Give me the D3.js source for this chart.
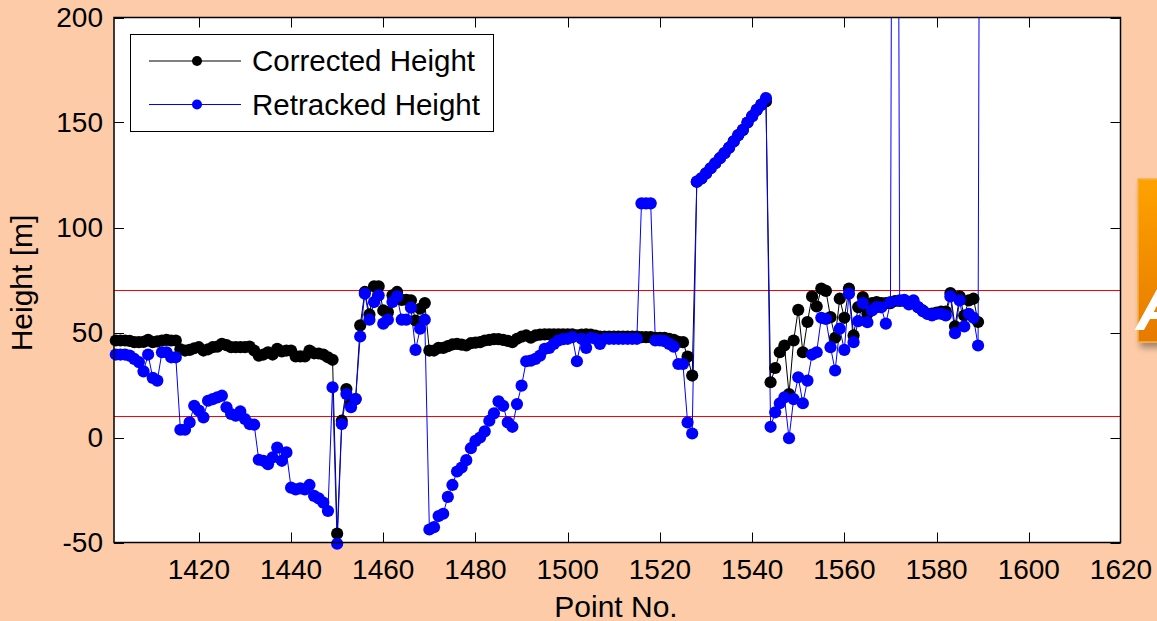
<!DOCTYPE html>
<html>
<head>
<meta charset="utf-8">
<script src="https://cdn.jsdelivr.net/npm/d3@7"></script>
<style>
  html, body { margin: 0; padding: 0; background: #fdcba7; }
  svg { display: block; font-family: "Liberation Sans", Arial, sans-serif; }
</style>
</head>
<body>
<svg id="chart" width="1157" height="621"></svg>
<script>
const firstPoint = 1402;

// Corrected Height, points 1402..1589
const correctedHeight = [
  46.2, 46.2, 46.2, 46, 45.4, 45.4, 45.5, 46.5, 45.4, 45.8,
  46.2, 46.5, 46.2, 46.2, 42, 41.4, 41.7, 42.5, 43, 41.4,
  42, 43, 43.3, 44.6, 44, 43, 43, 43, 43, 43.3,
  41.4, 39, 39.5, 40.6, 39.5, 42.2, 41, 41.4, 41.4, 38.6,
  38.6, 38.6, 41.4, 40.1, 40, 39.5, 38.2, 37, -45.8, 8,
  23.1, 16, 18.3, 53.4, 69.3, 58.6, 72, 72, 60.5, 59.7,
  67.7, 69.3, 65.5, 65.6, 65.3, 55.7, 61.3, 64, 41.4, 41.4,
  42.7, 42.7, 43.5, 44.3, 44.6, 44.2, 43.8, 44.9, 45.2, 45.4,
  46.2, 46.5, 46.8, 46.8, 46.5, 46, 45.4, 47, 48, 48.6,
  47.5, 48.6, 49, 49.1, 49.1, 49.1, 49.1, 49.1, 49.1, 49.1,
  48.6, 49, 49.1, 49, 48.5, 48, 48, 48, 48, 48,
  48, 48, 48, 48, 47.8, 47.8, 47.8, 47.5, 47.5, 47.5,
  47, 46.5, 45.5, 45.4, 38.5, 29.5, 121.8, 123.4, 125.8, 128.2,
  130.6, 133, 135.4, 138, 141, 144, 146.5, 150, 153, 156,
  158.5, 160, 26.3, 33.1, 40.6, 43.8, 20.7, 46.2, 60.8, 40.6,
  55, 67.2, 62.4, 70.9, 69.8, 57.3, 47.5, 66.1, 57, 70.9,
  48.6, 62.1, 66.9, 58.9, 64, 64.5, 64, 64, 64, 65,
  65, 65, 64, 64, 62, 60.5, 59, 59, 59.5, 60,
  60, 68.8, 52.9, 67.2, 58.1, 65.3, 66.1, 55
];

// Retracked Height, points 1402..1590
const retrackedHeight = [
  39.5, 39.5, 39.5, 39, 37.4, 35.9, 31.5, 39.5, 28.4, 27.1,
  40.6, 40.6, 38.2, 38.2, 3.7, 3.7, 7.2, 15.1, 12.8, 9.6,
  17.5, 18.3, 19.1, 19.9, 14.4, 11.2, 10.4, 12.4, 8.8, 6.4,
  6.1, -10.6, -11.1, -12.7, -9.5, -4.8, -11.1, -7.1, -23.9, -24.7,
  -24.2, -24.7, -22.6, -27.8, -29, -31, -35, 23.9, -50.6, 6.4,
  20.7, 14.4, 18.3, 48.1, 68.5, 56.1, 64.5, 67.7, 54.2, 56.1,
  64.5, 67.2, 56.1, 56.1, 61.8, 41.7, 51.8, 56.1, -43.8, -42.7,
  -37.4, -36.3, -28.3, -22.6, -16.2, -14.3, -10.8, -5.1, -1.6, 0,
  2.9, 8, 11.5, 17.2, 15.1, 7.2, 5.1, 15.9, 24.7, 36.3,
  36.6, 37.4, 39, 42.2, 42.7, 44.6, 46.2, 46.8, 47, 47.8,
  36.3, 47, 42.7, 47.5, 47, 44.6, 47, 47, 47, 47,
  47, 47, 47, 47, 111.5, 111.5, 111.5, 46.2, 46.2, 45.9,
  44.6, 43.3, 35, 35, 7.2, 1.9, 121.8, 123.4, 125.8, 128.2,
  130.6, 133, 135.4, 138, 141, 144, 146.5, 150, 153, 156,
  158.5, 161.6, 5.1, 12, 16.3, 19.1, -0.3, 18.3, 28.7, 16.3,
  27.1, 39.5, 40.6, 57, 56.5, 43, 31.9, 51.8, 41.7, 68.5,
  45.4, 55.4, 64, 54.9, 60.5, 62.1, 62, 54.2, 64.5, 800,
  65.3, 65.6, 63.4, 65.3, 62.1, 60.2, 58.9, 58.1, 58.9, 58.9,
  58.1, 67.2, 49.7, 65.3, 52.9, 58.9, 57, 43.8, 800
];

const thresholds = [70, 10];
const xTicks = [1420, 1440, 1460, 1480, 1500, 1520, 1540, 1560, 1580, 1600, 1620];
const yTicks = [-50, 0, 50, 100, 150, 200];

const series = [
  { name: 'Corrected Height', color: '#000000', values: correctedHeight },
  { name: 'Retracked Height', color: '#0000ff', values: retrackedHeight }
];

const svg = d3.select('#chart');
const plotLeft = 114, plotRight = 1120.5, plotTop = 17.5, plotBottom = 542.5;

const x = d3.scaleLinear().domain([1401.6, 1620]).range([plotLeft, 1121]);
const y = d3.scaleLinear().domain([-50, 200]).range([plotBottom, plotTop]);

svg.append('rect').attr('width', 1157).attr('height', 621).attr('fill', '#fdcba7');

// orange slide box peeking in at the right
const defs = svg.append('defs');
const grad = defs.append('linearGradient').attr('id', 'orange').attr('x1', 0).attr('y1', 0).attr('x2', 0).attr('y2', 1);
grad.append('stop').attr('offset', '0%').attr('stop-color', '#ffa200');
grad.append('stop').attr('offset', '100%').attr('stop-color', '#e67a00');
defs.append('filter').attr('id', 'shadow').attr('x', '-20%').attr('y', '-20%').attr('width', '160%').attr('height', '160%')
  .append('feDropShadow').attr('dx', 3).attr('dy', 5).attr('stdDeviation', 3).attr('flood-opacity', 0.35);
defs.append('clipPath').attr('id', 'plot-clip')
  .append('rect').attr('x', plotLeft).attr('y', plotTop).attr('width', plotRight - plotLeft).attr('height', plotBottom - plotTop);

svg.append('rect')
  .attr('x', 1138).attr('y', 179).attr('width', 40).attr('height', 163)
  .attr('fill', 'url(#orange)').attr('stroke', '#f5b04a').attr('stroke-width', 1.5)
  .attr('filter', 'url(#shadow)');
svg.append('text')
  .attr('x', 1136).attr('y', 330)
  .attr('fill', '#ffffff').style('font-size', '64px').style('font-weight', 'bold').style('font-style', 'italic')
  .text('A');

svg.append('rect')
  .attr('x', plotLeft).attr('y', plotTop).attr('width', plotRight - plotLeft).attr('height', plotBottom - plotTop)
  .attr('fill', '#ffffff');

const plot = svg.append('g').attr('clip-path', 'url(#plot-clip)');

plot.selectAll('line.threshold')
  .data(thresholds)
  .enter()
  .append('line')
  .classed('threshold', true)
  .attr('x1', plotLeft).attr('x2', plotRight)
  .attr('y1', d => y(d)).attr('y2', d => y(d))
  .attr('stroke', '#ff0000').attr('stroke-width', 1.2);

const line = d3.line()
  .x((d, i) => x(firstPoint + i))
  .y(d => y(d));

series.forEach(s => {
  plot.append('path')
    .datum(s.values)
    .attr('fill', 'none')
    .attr('stroke', s.color)
    .attr('stroke-width', 1)
    .attr('d', line);

  svg.append('g')
    .selectAll('circle')
    .data(s.values.map((v, i) => ({ n: firstPoint + i, v })).filter(d => d.v >= -52 && d.v <= 200))
    .enter()
    .append('circle')
    .attr('cx', d => x(d.n))
    .attr('cy', d => y(d.v))
    .attr('r', 6.1)
    .attr('fill', s.color);
});

// axes box with inward ticks on all four sides
const tickLen = 10;
const axes = svg.append('g').attr('stroke', '#000').attr('stroke-width', 1);

axes.selectAll('g.xt')
  .data(xTicks.filter(t => t < 1620))
  .enter()
  .append('g')
  .classed('xt', true)
  .each(function (t) {
    const g = d3.select(this);
    const px = Math.round(x(t)) + 0.5;
    g.append('line').attr('x1', px).attr('x2', px).attr('y1', plotBottom).attr('y2', plotBottom - tickLen);
    g.append('line').attr('x1', px).attr('x2', px).attr('y1', plotTop).attr('y2', plotTop + tickLen);
  });

axes.selectAll('g.yt')
  .data(yTicks)
  .enter()
  .append('g')
  .classed('yt', true)
  .each(function (t) {
    const g = d3.select(this);
    const py = Math.round(y(t)) + 0.5;
    g.append('line').attr('x1', plotLeft).attr('x2', plotLeft + tickLen).attr('y1', py).attr('y2', py);
    g.append('line').attr('x1', plotRight).attr('x2', plotRight - tickLen).attr('y1', py).attr('y2', py);
  });

axes.append('rect')
  .attr('x', plotLeft).attr('y', plotTop).attr('width', plotRight - plotLeft).attr('height', plotBottom - plotTop)
  .attr('fill', 'none').attr('stroke-width', 1.5);

svg.append('g')
  .selectAll('text')
  .data(xTicks)
  .enter()
  .append('text')
  .attr('x', d => x(d))
  .attr('y', 578.5)
  .attr('text-anchor', 'middle')
  .style('font-size', '28px')
  .text(d => d);

svg.append('g')
  .selectAll('text')
  .data(yTicks)
  .enter()
  .append('text')
  .attr('x', 103)
  .attr('y', d => y(d))
  .attr('dy', '0.35em')
  .attr('text-anchor', 'end')
  .style('font-size', '28px')
  .text(d => d);

svg.append('text')
  .attr('x', 616).attr('y', 616.5)
  .attr('text-anchor', 'middle')
  .style('font-size', '30px')
  .text('Point No.');

svg.append('text')
  .attr('transform', 'translate(31.5 283) rotate(-90)')
  .attr('text-anchor', 'middle')
  .style('font-size', '30px')
  .text('Height [m]');

// legend
const legend = svg.append('g');
legend.append('rect')
  .attr('x', 130.5).attr('y', 34.5).attr('width', 363).attr('height', 97)
  .attr('fill', '#ffffff').attr('stroke', '#000').attr('stroke-width', 1);

const entry = legend.selectAll('g.entry')
  .data(series)
  .enter()
  .append('g')
  .classed('entry', true)
  .attr('transform', (d, i) => `translate(0 ${61 + i * 43.5})`);

entry.append('line')
  .attr('x1', 149).attr('x2', 241)
  .attr('stroke', d => d.color).attr('stroke-width', 1);
entry.append('circle')
  .attr('cx', 197).attr('r', 5)
  .attr('fill', d => d.color);
entry.append('text')
  .attr('x', 252).attr('dy', '0.35em')
  .style('font-size', '29.5px')
  .text(d => d.name);
</script>
</body>
</html>
